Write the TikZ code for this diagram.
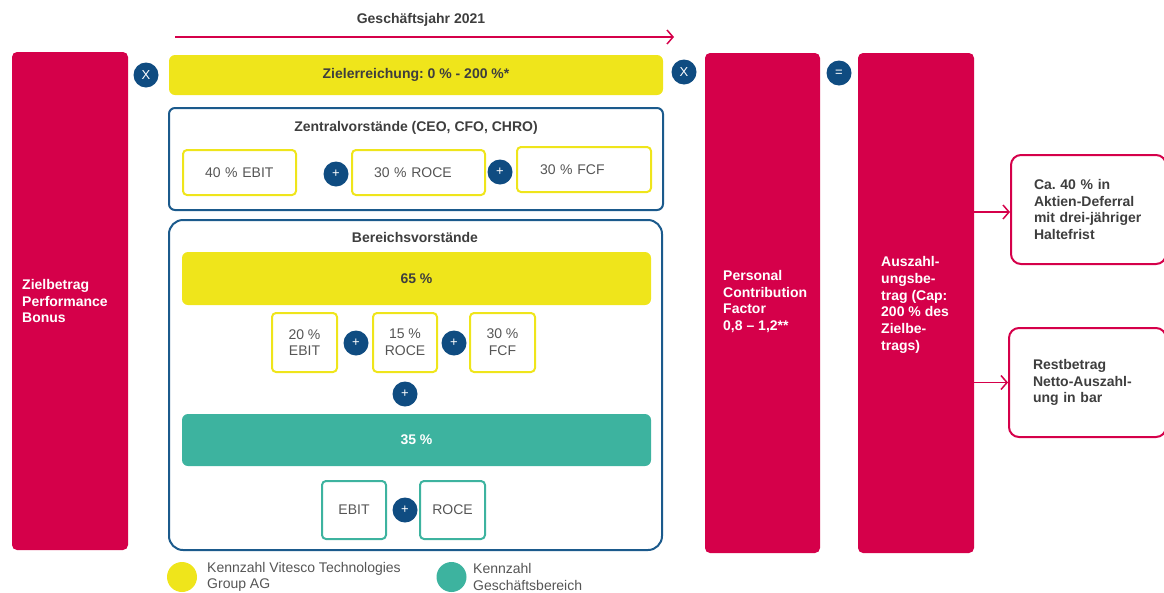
\documentclass[tikz,border=0pt]{standalone}
\usepackage{fontspec}
\setmainfont{Liberation Sans}
\usetikzlibrary{arrows.meta}
\definecolor{vred}{HTML}{D5004A}
\definecolor{vyellow}{HTML}{EFE51B}
\definecolor{vteal}{HTML}{3DB39F}
\definecolor{vblue}{HTML}{0F4C81}
\definecolor{vborder}{HTML}{1B5A8C}
\definecolor{tgrey}{HTML}{3E3E3E}
\definecolor{lgrey}{HTML}{555555}
\newcommand\fsz{\fontsize{14}{16.7}\selectfont\frenchspacing}
\begin{document}
\begin{tikzpicture}[x=1pt,y=-1pt,
  every node/.style={inner sep=0pt, font=\fsz},
  redbar/.style={fill=vred, rounded corners=5pt, minimum width=#1, minimum height=500pt},
  bartext/.style={anchor=west, align=left, text=white, font=\fsz\bfseries},
  op/.style={circle, fill=vblue, minimum size=25pt, text=white, font=\fontsize{13}{13}\selectfont},
  hdr/.style={text=tgrey, font=\fsz\bfseries},
  ybar/.style={fill=vyellow, rounded corners=6pt, minimum width=#1},
  frame/.style={draw=vborder, line width=2pt, rounded corners=#1},
  ybox/.style={draw=vyellow, line width=2pt, rounded corners=4pt, text=lgrey, align=center},
  tbox/.style={draw=vteal, line width=2pt, rounded corners=4pt, text=lgrey, align=center},
  outbox/.style={draw=vred, line width=2pt, rounded corners=10pt, minimum height=109pt, align=left, text=tgrey, font=\fsz\bfseries},
  rarrow/.style={draw=vred, line width=1.5pt, -{Straight Barb[length=6pt,width=14pt,line width=1.5pt]}},
  legtext/.style={anchor=west, align=left, text=lgrey, font=\fsz}
]
\useasboundingbox (0,0) rectangle (1164,592);
\clip (0,0) rectangle (1164,592);

% top timeline
\node[hdr] (gj) at (421,20) {Geschäftsjahr 2021};
\coordinate (as) at (175,37);
\coordinate (ae) at (674,37);
\draw[rarrow] (as) -- (ae);

% left bar
\node[redbar=116pt, minimum height=498pt] (zb) at (70,301) {};
\node[bartext] (zbt) at (22,301) {Zielbetrag\\Performance\\Bonus};

\node[op] (x1) at (146,75) {X};

% Zielerreichung
\node[ybar=494pt, minimum height=40pt, hdr] (ze) at (416,75) {Zielerreichung: 0 \% - 200 \%*};

\node[op] (x2) at (684,72) {X};

% Zentralvorstaende
\node[frame=6pt, minimum width=494pt, minimum height=102pt] (zv) at (416,159) {};
\node[hdr] (zvt) at (416,128) {Zentralvorstände (CEO, CFO, CHRO)};
\node[ybox, minimum width=113pt, minimum height=45pt, text width=69pt, inner xsep=22pt, align=left] (e1) at (239.5,172.5) {40 \% EBIT};
\node[op] (p1) at (336,174) {+};
\node[ybox, minimum width=133pt, minimum height=45pt, text width=89pt, inner xsep=22pt, align=left] (r1) at (418.5,172.5) {30 \% ROCE};
\node[op] (p2) at (500,172) {+};
\node[ybox, minimum width=134pt, minimum height=45pt, text width=88pt, inner xsep=23pt, align=left] (f1) at (584,169.5) {30 \% FCF};

% Bereichsvorstaende
\node[frame=14pt, minimum width=493pt, minimum height=330pt] (bv) at (415.5,385) {};
\node[hdr] (bvt) at (415,237) {Bereichsvorstände};
\node[ybar=469pt, minimum height=53pt, hdr] (y65) at (416.5,278.5) {65 \%};
\node[ybox, minimum width=65pt, minimum height=59pt] (e2) at (304.5,342.5) {20 \%\\EBIT};
\node[op] (p3) at (356,343) {+};
\node[ybox, minimum width=64pt, minimum height=59pt] (r2) at (405,342.5) {15 \%\\ROCE};
\node[op] (p4) at (454,343) {+};
\node[ybox, minimum width=65pt, minimum height=59pt] (f2) at (502.5,342.5) {30 \%\\FCF};
\node[op] (p5) at (405,394) {+};
\node[fill=vteal, rounded corners=6pt, minimum width=469pt, minimum height=52pt, text=white, font=\fsz\bfseries] (t35) at (416.5,440) {35 \%};
\node[tbox, minimum width=64pt, minimum height=58pt] (e3) at (354,510) {EBIT};
\node[op] (p6) at (405,510) {+};
\node[tbox, minimum width=65pt, minimum height=58pt] (r3) at (452.5,510) {ROCE};

% legend
\node[circle, fill=vyellow, minimum size=30pt] (ly) at (182,577) {};
\node[legtext] (lyt) at (207,577) {Kennzahl Vitesco Technologies\\Group AG};
\node[circle, fill=vteal, minimum size=30pt] (lt) at (451.5,577) {};
\node[legtext] (ltt) at (473,577) {Kennzahl\\Geschäftsbereich};

% PCF bar
\node[redbar=115pt] (pcf) at (762.5,303) {};
\node[bartext] (pcft) at (723,301.5) {Personal\\Contribution\\Factor\\0,8 – 1,2**};

\node[op] (eq) at (839,73) {=};

% Auszahlungsbetrag bar
\node[redbar=116pt] (aus) at (916,303) {};
\node[bartext] (aust) at (881,305) {Auszahl-\\ungsbe-\\trag (Cap:\\200 \% des\\Zielbe-\\trags)};

% output boxes
\node[outbox, minimum width=155pt, text width=109pt, inner xsep=23pt] (b1) at (1088.5,209.5) {Ca. 40 \% in\\Aktien-Deferral\\mit drei-jähriger\\Haltefrist};
\node[outbox, minimum width=157pt, text width=109pt, inner xsep=24pt] (b2) at (1087.5,382.5) {Restbetrag\\Netto-Auszahl-\\ung in bar};

\draw[rarrow] (aus.east |- 0,212) -- (b1.west |- 0,212);
\draw[rarrow] (aus.east |- b2.west) -- (b2.west);
\end{tikzpicture}
\end{document}
